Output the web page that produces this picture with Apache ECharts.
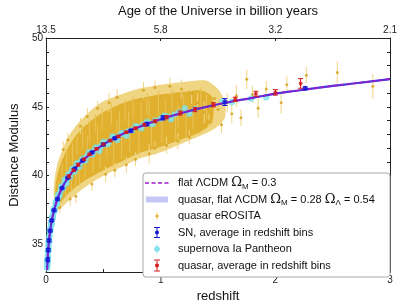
<!DOCTYPE html>
<html>
<head>
<meta charset="utf-8">
<script src="https://cdn.jsdelivr.net/npm/echarts@6/dist/echarts.min.js"></script>
<style>
  html, body { margin: 0; padding: 0; background: #fff; }
  #chart { width: 400px; height: 308px; }
</style>
</head>
<body>
<div id="chart"></div>
<script>
// top axis labels (age of the universe at z = 0,1,2,3)
const ageLabels = ["13.5", "5.8", "3.2", "2.1"];

// flat LCDM curve
const curveZ = [0.01, 0.015, 0.02, 0.03, 0.04, 0.05, 0.07, 0.1, 0.13, 0.16, 0.2, 0.25, 0.3, 0.4, 0.5, 0.6, 0.7, 0.8, 0.9, 1.0, 1.2, 1.4, 1.6, 1.8, 2.0, 2.2, 2.4, 2.6, 2.8, 3.0];
const curveMu = [33.17, 34.06, 34.69, 35.59, 36.23, 36.73, 37.48, 38.31, 38.94, 39.43, 39.96, 40.5, 40.95, 41.67, 42.26, 42.74, 43.15, 43.5, 43.82, 44.1, 44.59, 45.0, 45.35, 45.65, 45.96, 46.19, 46.41, 46.62, 46.81, 47.02];

// quasar eROSITA cloud, outer edge (incl. error bars) and dense core
const cloudOuterUpper = [[0.07, 39.4], [0.1, 40.9], [0.15, 42.0], [0.2, 42.9], [0.3, 44.0], [0.4, 44.8], [0.5, 45.4], [0.65, 45.9], [0.8, 46.3], [1.0, 46.6], [1.2, 46.8], [1.4, 46.9], [1.5, 46.3], [1.56, 45.4]];
const cloudOuterLower = [[0.07, 38.3], [0.1, 37.5], [0.15, 37.8], [0.2, 38.2], [0.3, 38.9], [0.4, 39.5], [0.5, 40.0], [0.65, 40.6], [0.8, 41.2], [1.0, 41.7], [1.2, 42.4], [1.4, 43.1], [1.5, 43.6], [1.56, 44.2]];
const cloudCoreUpper = [[0.085, 39.4], [0.12, 40.7], [0.17, 41.7], [0.25, 42.8], [0.35, 43.7], [0.5, 44.6], [0.65, 45.2], [0.8, 45.6], [1.0, 45.9], [1.2, 46.1], [1.35, 46.2], [1.45, 45.7]];
const cloudCoreLower = [[0.085, 38.3], [0.12, 38.0], [0.17, 38.5], [0.25, 39.1], [0.35, 39.7], [0.5, 40.4], [0.65, 41.0], [0.8, 41.6], [1.0, 42.1], [1.2, 42.7], [1.35, 43.2], [1.45, 43.9]];

// individual quasars visible around / inside the cloud: [z, mu, err]
const quasarPoints = [
  [0.12, 37.7, 0.4], [0.21, 38.3, 0.5], [0.26, 38.5, 0.5], [0.15, 41.9, 0.6], [0.19, 42.6, 0.5],
  [0.3, 43.6, 0.6], [0.36, 44.3, 0.6], [0.45, 44.9, 0.5], [0.55, 45.3, 0.7], [0.62, 45.7, 0.6],
  [0.4, 39.4, 0.5], [0.52, 40.1, 0.6], [0.6, 40.4, 0.5], [0.7, 40.8, 0.6], [0.78, 41.2, 0.5],
  [0.9, 41.6, 0.7], [0.95, 42.0, 0.5], [1.05, 42.2, 0.6], [1.15, 42.5, 0.6], [1.25, 42.8, 0.5],
  [0.85, 46.2, 0.6], [0.95, 46.4, 0.5], [1.08, 46.5, 0.6], [1.18, 46.3, 0.7], [1.27, 46.0, 0.8],
  [1.32, 45.3, 0.7], [1.38, 44.6, 0.8], [1.42, 43.9, 0.6], [1.47, 45.6, 0.8], [1.5, 44.8, 0.9],
  [1.53, 43.7, 0.6], [1.58, 45.3, 0.7], [1.62, 44.5, 0.7], [1.66, 45.8, 0.8], [1.7, 44.2, 0.6],
  [1.75, 47.0, 0.7], [1.8, 45.9, 0.6], [1.85, 44.9, 0.7], [1.92, 46.3, 0.6], [2.05, 45.3, 0.8],
  [2.1, 46.6, 0.6], [2.27, 47.3, 0.6], [2.54, 47.5, 0.8], [2.85, 46.5, 0.9]
];
const quasarInner = [
  [0.11, 39.0, 0.6], [0.14, 40.2, 0.7], [0.17, 39.2, 0.6], [0.18, 41.0, 0.8], [0.22, 39.6, 0.7],
  [0.23, 41.6, 0.8], [0.26, 39.8, 0.6], [0.27, 42.2, 0.7], [0.29, 40.2, 0.8], [0.32, 42.8, 0.8],
  [0.34, 40.6, 0.7], [0.36, 42.1, 0.7], [0.38, 43.3, 0.8], [0.41, 41.0, 0.8], [0.43, 43.8, 0.7],
  [0.45, 43.0, 0.7], [0.47, 41.4, 0.8], [0.49, 44.1, 0.8], [0.53, 42.0, 0.7], [0.57, 44.5, 0.8],
  [0.59, 41.5, 0.9], [0.62, 43.2, 0.8], [0.64, 43.9, 0.8], [0.66, 42.0, 0.8], [0.69, 44.7, 0.8],
  [0.72, 43.8, 0.9], [0.73, 42.5, 0.8], [0.76, 45.0, 0.8], [0.81, 42.3, 0.9], [0.83, 44.5, 0.8],
  [0.88, 45.2, 0.8], [0.9, 44.7, 0.8], [0.92, 42.9, 0.8], [0.98, 45.3, 0.9], [1.01, 43.2, 0.8],
  [1.04, 44.8, 0.8], [1.1, 45.5, 0.8], [1.13, 43.5, 0.9], [1.15, 44.3, 0.8], [1.2, 45.1, 0.8],
  [1.22, 43.6, 0.8], [1.28, 44.2, 0.8], [1.35, 45.6, 0.8], [1.4, 45.0, 0.9]
];

// supernova Ia Pantheon
const pantheonZ = [0.01, 0.011, 0.012, 0.013, 0.014, 0.016, 0.018, 0.02, 0.022, 0.025, 0.028, 0.031, 0.035, 0.04, 0.045, 0.05, 0.056, 0.063, 0.07, 0.08, 0.09, 0.1, 0.11, 0.125, 0.14, 0.155, 0.17, 0.185, 0.2, 0.22, 0.24, 0.26, 0.28, 0.3, 0.33, 0.36, 0.39, 0.42, 0.45, 0.48, 0.51, 0.55, 0.59, 0.63, 0.67, 0.71, 0.75, 0.8, 0.85, 0.9, 0.95, 1.0, 1.06, 1.12, 1.21, 1.3, 1.54, 1.62, 1.79, 1.92,
  0.012, 0.015, 0.017, 0.021, 0.024, 0.027, 0.033, 0.038, 0.043, 0.048, 0.053, 0.06, 0.066, 0.075, 0.085, 0.095, 0.105, 0.118, 0.132, 0.148, 0.162, 0.178, 0.195, 0.21, 0.23, 0.25, 0.27, 0.29, 0.315, 0.345, 0.375, 0.405, 0.435, 0.465, 0.5, 0.54, 0.58, 0.62, 0.66, 0.7, 0.78, 0.83, 0.88, 0.93, 1.03, 1.09, 1.16, 1.25];
const pantheonMu = [33.3, 33.5, 33.6, 33.8, 33.95, 34.2, 34.5, 34.7, 34.95, 35.2, 35.5, 35.65, 36.0, 36.25, 36.55, 36.7, 37.0, 37.25, 37.5, 37.8, 38.1, 38.3, 38.55, 38.85, 39.15, 39.35, 39.6, 39.8, 40.0, 40.25, 40.4, 40.65, 40.85, 40.95, 41.25, 41.45, 41.6, 41.85, 42.0, 42.15, 42.3, 42.5, 42.75, 42.85, 43.05, 43.2, 43.3, 43.55, 43.7, 43.8, 44.0, 44.15, 44.3, 44.45, 44.9, 44.85, 45.4, 45.35, 45.6, 45.7,
  33.8, 34.0, 34.55, 34.6, 35.25, 35.2, 35.95, 36.05, 36.6, 36.45, 37.0, 36.95, 37.55, 37.45, 38.1, 37.95, 38.6, 38.55, 39.2, 39.1, 39.7, 39.45, 40.1, 39.9, 40.5, 40.3, 40.9, 40.65, 41.2, 41.1, 41.7, 41.55, 42.05, 41.8, 42.45, 42.3, 42.85, 42.6, 43.1, 42.9, 43.6, 43.45, 43.9, 43.75, 44.35, 44.1, 44.6, 44.5];

// SN averages in redshift bins: [z, mu, err]
const snBins = [[0.014, 33.9, 0.15], [0.019, 34.6, 0.12], [0.026, 35.3, 0.1], [0.036, 36.0, 0.08], [0.05, 36.75, 0.08], [0.07, 37.5, 0.07], [0.1, 38.3, 0.07], [0.14, 39.1, 0.06], [0.19, 39.85, 0.06], [0.25, 40.5, 0.06], [0.32, 41.1, 0.06], [0.4, 41.68, 0.06], [0.5, 42.26, 0.07], [0.6, 42.72, 0.08], [0.74, 43.27, 0.1], [0.88, 43.75, 0.12], [1.02, 44.2, 0.15], [1.56, 45.35, 0.25], [2.26, 46.35, 0.1]];

// quasar averages in redshift bins: [z, mu, err]
const quasarBins = [[0.2, 39.95, 0.12], [0.24, 40.4, 0.1], [0.28, 40.8, 0.1], [0.33, 41.2, 0.08], [0.38, 41.55, 0.08], [0.44, 41.95, 0.08], [0.5, 42.28, 0.08], [0.56, 42.55, 0.08], [0.63, 42.85, 0.08], [0.7, 43.15, 0.08], [0.78, 43.45, 0.08], [0.86, 43.7, 0.1], [0.95, 43.95, 0.1], [1.05, 44.25, 0.12], [1.17, 44.55, 0.15], [1.3, 44.8, 0.15], [1.46, 45.15, 0.15], [1.65, 45.55, 0.15], [1.83, 45.95, 0.18], [2.0, 46.05, 0.2], [2.22, 46.7, 0.35]];

const FONT = "'Liberation Sans', Arial, sans-serif";
const C = {
  cloud: "#e0b02e",
  cloudDot: "#d6a628",
  cloudLight: "#f0d582",
  streak: "#e9c458",
  cyan: "#82e6f0",
  band: "#4a36dc",
  bandSwatch: "#c6c6f6",
  dash: "#9a1ac8",
  blue: "#1616d6",
  red: "#d41a1a",
};

//雲狀區域(多邊形)
function polygonRender(upper, lower, fill) {
  return function (params, api) {
    if (params.dataIndex > 0) return;
    const pts = upper.map((p) => api.coord(p)).concat(lower.slice().reverse().map((p) => api.coord(p)));
    return { type: "polygon", shape: { points: pts, smooth: 0.25 }, style: { fill: fill } };
  };
}

//誤差棒
function errorBarRender(color, cap, width) {
  return function (params, api) {
    const x = api.value(0), y = api.value(1), e = api.value(2);
    const top = api.coord([x, y + e]);
    const bot = api.coord([x, y - e]);
    const children = [
      { type: "line", shape: { x1: top[0], y1: top[1], x2: bot[0], y2: bot[1] }, style: { stroke: color, lineWidth: width } },
    ];
    if (cap) {
      children.push({ type: "line", shape: { x1: top[0] - cap, y1: top[1], x2: top[0] + cap, y2: top[1] }, style: { stroke: color, lineWidth: width } });
      children.push({ type: "line", shape: { x1: bot[0] - cap, y1: bot[1], x2: bot[0] + cap, y2: bot[1] }, style: { stroke: color, lineWidth: width } });
    }
    return { type: "group", children: children };
  };
}

const curveData = curveZ.map((z, i) => [z, curveMu[i]]);
const pantheonData = pantheonZ.map((z, i) => [z, pantheonMu[i]]);

const axisCommon = {
  type: "value",
  min: 0,
  max: 3,
  axisLine: { show: true, onZero: false, lineStyle: { color: "#222", width: 1 } },
  axisTick: { show: true, inside: true, length: 3, lineStyle: { color: "#222" } },
  splitLine: { show: false },
};

// legend drawn as graphic
const legendX = 143, legendY = 173;
const rowY = [183, 199.5, 216, 232.5, 249, 265.5];
const textStyleBase = { fill: "#111", font: "11px " + FONT, textVerticalAlign: "middle" };
const rich = {
  o: { fontSize: 13, fontFamily: "'DejaVu Serif', serif", fill: "#111" },
  s: { fontSize: 8, fontFamily: FONT, padding: [7, 0, 0, 0], fill: "#111" },
};
const legendLabels = [
  "flat ΛCDM {o|Ω}{s|M} = 0.3",
  "quasar, flat ΛCDM {o|Ω}{s|M} = 0.28 {o|Ω}{s|Λ} = 0.54",
  "quasar eROSITA",
  "SN, average in redshift bins",
  "supernova Ia Pantheon",
  "quasar, average in redshift bins",
];

const legendGraphic = [
  { type: "rect", shape: { x: legendX, y: legendY, width: 247, height: 104, r: 3 }, style: { fill: "#fff", stroke: "#a8a8a8", lineWidth: 1 }, z: 100 },
  { type: "line", shape: { x1: 145, y1: rowY[0], x2: 169, y2: rowY[0] }, style: { stroke: C.dash, lineWidth: 1.6, lineDash: [4, 2.5] }, z: 101 },
  { type: "rect", shape: { x: 146, y: rowY[1] - 3, width: 22, height: 6 }, style: { fill: C.bandSwatch }, z: 101 },
  { type: "line", shape: { x1: 157, y1: rowY[2] - 4, x2: 157, y2: rowY[2] + 4 }, style: { stroke: C.cloudLight, lineWidth: 1 }, z: 101 },
  { type: "circle", shape: { cx: 157, cy: rowY[2], r: 1.6 }, style: { fill: C.cloud }, z: 102 },
  { type: "polyline", shape: { points: [[154, rowY[3] - 5], [160, rowY[3] - 5]] }, style: { stroke: C.blue, lineWidth: 1 }, z: 101 },
  { type: "polyline", shape: { points: [[154, rowY[3] + 5], [160, rowY[3] + 5]] }, style: { stroke: C.blue, lineWidth: 1 }, z: 101 },
  { type: "line", shape: { x1: 157, y1: rowY[3] - 5, x2: 157, y2: rowY[3] + 5 }, style: { stroke: C.blue, lineWidth: 1 }, z: 101 },
  { type: "circle", shape: { cx: 157, cy: rowY[3], r: 2 }, style: { fill: C.blue }, z: 102 },
  { type: "line", shape: { x1: 157, y1: rowY[4] - 5, x2: 157, y2: rowY[4] + 5 }, style: { stroke: "#b8e8f0", lineWidth: 1 }, z: 101 },
  { type: "circle", shape: { cx: 157, cy: rowY[4], r: 2.5 }, style: { fill: C.cyan, stroke: "#5cc8d8", lineWidth: 0.5 }, z: 102 },
  { type: "polyline", shape: { points: [[154, rowY[5] - 5.5], [160, rowY[5] - 5.5]] }, style: { stroke: C.red, lineWidth: 1 }, z: 101 },
  { type: "polyline", shape: { points: [[154, rowY[5] + 5.5], [160, rowY[5] + 5.5]] }, style: { stroke: C.red, lineWidth: 1 }, z: 101 },
  { type: "line", shape: { x1: 157, y1: rowY[5] - 5.5, x2: 157, y2: rowY[5] + 5.5 }, style: { stroke: C.red, lineWidth: 1 }, z: 101 },
  { type: "circle", shape: { cx: 157, cy: rowY[5], r: 2 }, style: { fill: C.red }, z: 102 },
].concat(
  legendLabels.map((t, i) => ({
    type: "text",
    x: 178,
    y: rowY[i],
    z: 103,
    style: Object.assign({ text: t, rich: rich }, textStyleBase),
  }))
);

const chart = echarts.init(document.getElementById("chart"), null, { renderer: "canvas" });
chart.setOption({
  backgroundColor: "#fff",
  animation: false,
  textStyle: { fontFamily: FONT },
  grid: { left: 30, right: 8, top: 28, bottom: 26, containLabel: false },
  xAxis: [
    Object.assign({}, axisCommon, {
      position: "bottom",
      interval: 0.5,
      name: "redshift",
      nameLocation: "middle",
      nameGap: 17,
      nameTextStyle: { fontSize: 13, color: "#111", fontFamily: FONT },
      axisLabel: { fontSize: 10, color: "#222", margin: 3, formatter: (v) => (Number.isInteger(v) ? String(v) : "") },
    }),
    Object.assign({}, axisCommon, {
      position: "top",
      interval: 1,
      name: "Age of the Universe in billion years",
      nameLocation: "middle",
      nameGap: 20,
      nameTextStyle: { fontSize: 13, color: "#111", fontFamily: FONT },
      axisLabel: { fontSize: 10, color: "#222", margin: 3, formatter: (v) => ageLabels[Math.round(v)] },
    }),
  ],
  yAxis: [
    {
      type: "value",
      min: 33,
      max: 50,
      interval: 1,
      name: "Distance Modulus",
      nameLocation: "middle",
      nameGap: 19,
      nameTextStyle: { fontSize: 13, color: "#111", fontFamily: FONT },
      axisLine: { show: true, onZero: false, lineStyle: { color: "#222", width: 1 } },
      axisTick: { show: true, inside: true, length: 3, lineStyle: { color: "#222" } },
      axisLabel: { fontSize: 10, color: "#222", margin: 3, formatter: (v) => (v % 5 === 0 ? String(v) : "") },
      splitLine: { show: false },
    },
    {
      type: "value",
      min: 33,
      max: 50,
      interval: 1,
      position: "right",
      axisLine: { show: true, onZero: false, lineStyle: { color: "#222", width: 1 } },
      axisTick: { show: true, inside: true, length: 3, lineStyle: { color: "#222" } },
      axisLabel: { show: false },
      splitLine: { show: false },
    },
  ],
  graphic: legendGraphic,
  series: [
    {
      name: "cloudOuter",
      type: "custom",
      clip: true,
      data: [[1, 40]],
      renderItem: polygonRender(cloudOuterUpper, cloudOuterLower, C.cloudLight),
      z: 1,
    },
    {
      name: "cloudCore",
      type: "custom",
      clip: true,
      data: [[1, 40]],
      renderItem: polygonRender(cloudCoreUpper, cloudCoreLower, C.cloud),
      z: 2,
    },
    {
      name: "quasar inner bars",
      type: "custom",
      clip: true,
      data: quasarInner,
      encode: { x: 0, y: 1 },
      renderItem: errorBarRender(C.streak, 0, 1),
      z: 3,
    },
    {
      name: "quasar eROSITA bars",
      type: "custom",
      clip: true,
      data: quasarPoints,
      encode: { x: 0, y: 1 },
      renderItem: errorBarRender(C.cloudLight, 0, 1),
      z: 3,
    },
    {
      name: "quasar eROSITA",
      type: "scatter",
      data: quasarPoints.map((p) => [p[0], p[1]]),
      symbolSize: 3,
      itemStyle: { color: C.cloudDot, opacity: 0.9 },
      z: 4,
    },
    {
      name: "supernova Ia Pantheon",
      type: "scatter",
      data: pantheonData,
      symbolSize: 6,
      itemStyle: { color: C.cyan, borderColor: "#6ad6e4", borderWidth: 0.5 },
      z: 5,
    },
    {
      name: "quasar fit band",
      type: "line",
      data: curveData,
      smooth: true,
      symbol: "none",
      lineStyle: { color: C.band, width: 2.2 },
      z: 6,
    },
    {
      name: "flat LCDM",
      type: "line",
      data: curveData,
      smooth: true,
      symbol: "none",
      lineStyle: { color: C.dash, width: 1.6, type: [4, 2.5] },
      z: 7,
    },
    {
      name: "SN bars",
      type: "custom",
      clip: true,
      data: snBins,
      encode: { x: 0, y: 1 },
      renderItem: errorBarRender(C.blue, 2.5, 1),
      z: 8,
    },
    {
      name: "SN, average in redshift bins",
      type: "scatter",
      data: snBins.map((p) => [p[0], p[1]]),
      symbolSize: 5,
      itemStyle: { color: C.blue },
      z: 9,
    },
    {
      name: "quasar bars",
      type: "custom",
      clip: true,
      data: quasarBins,
      encode: { x: 0, y: 1 },
      renderItem: errorBarRender(C.red, 2.5, 1),
      z: 8,
    },
    {
      name: "quasar, average in redshift bins",
      type: "scatter",
      data: quasarBins.map((p) => [p[0], p[1]]),
      symbolSize: 4,
      itemStyle: { color: C.red },
      z: 9,
    },
  ],
});
</script>
</body>
</html>
